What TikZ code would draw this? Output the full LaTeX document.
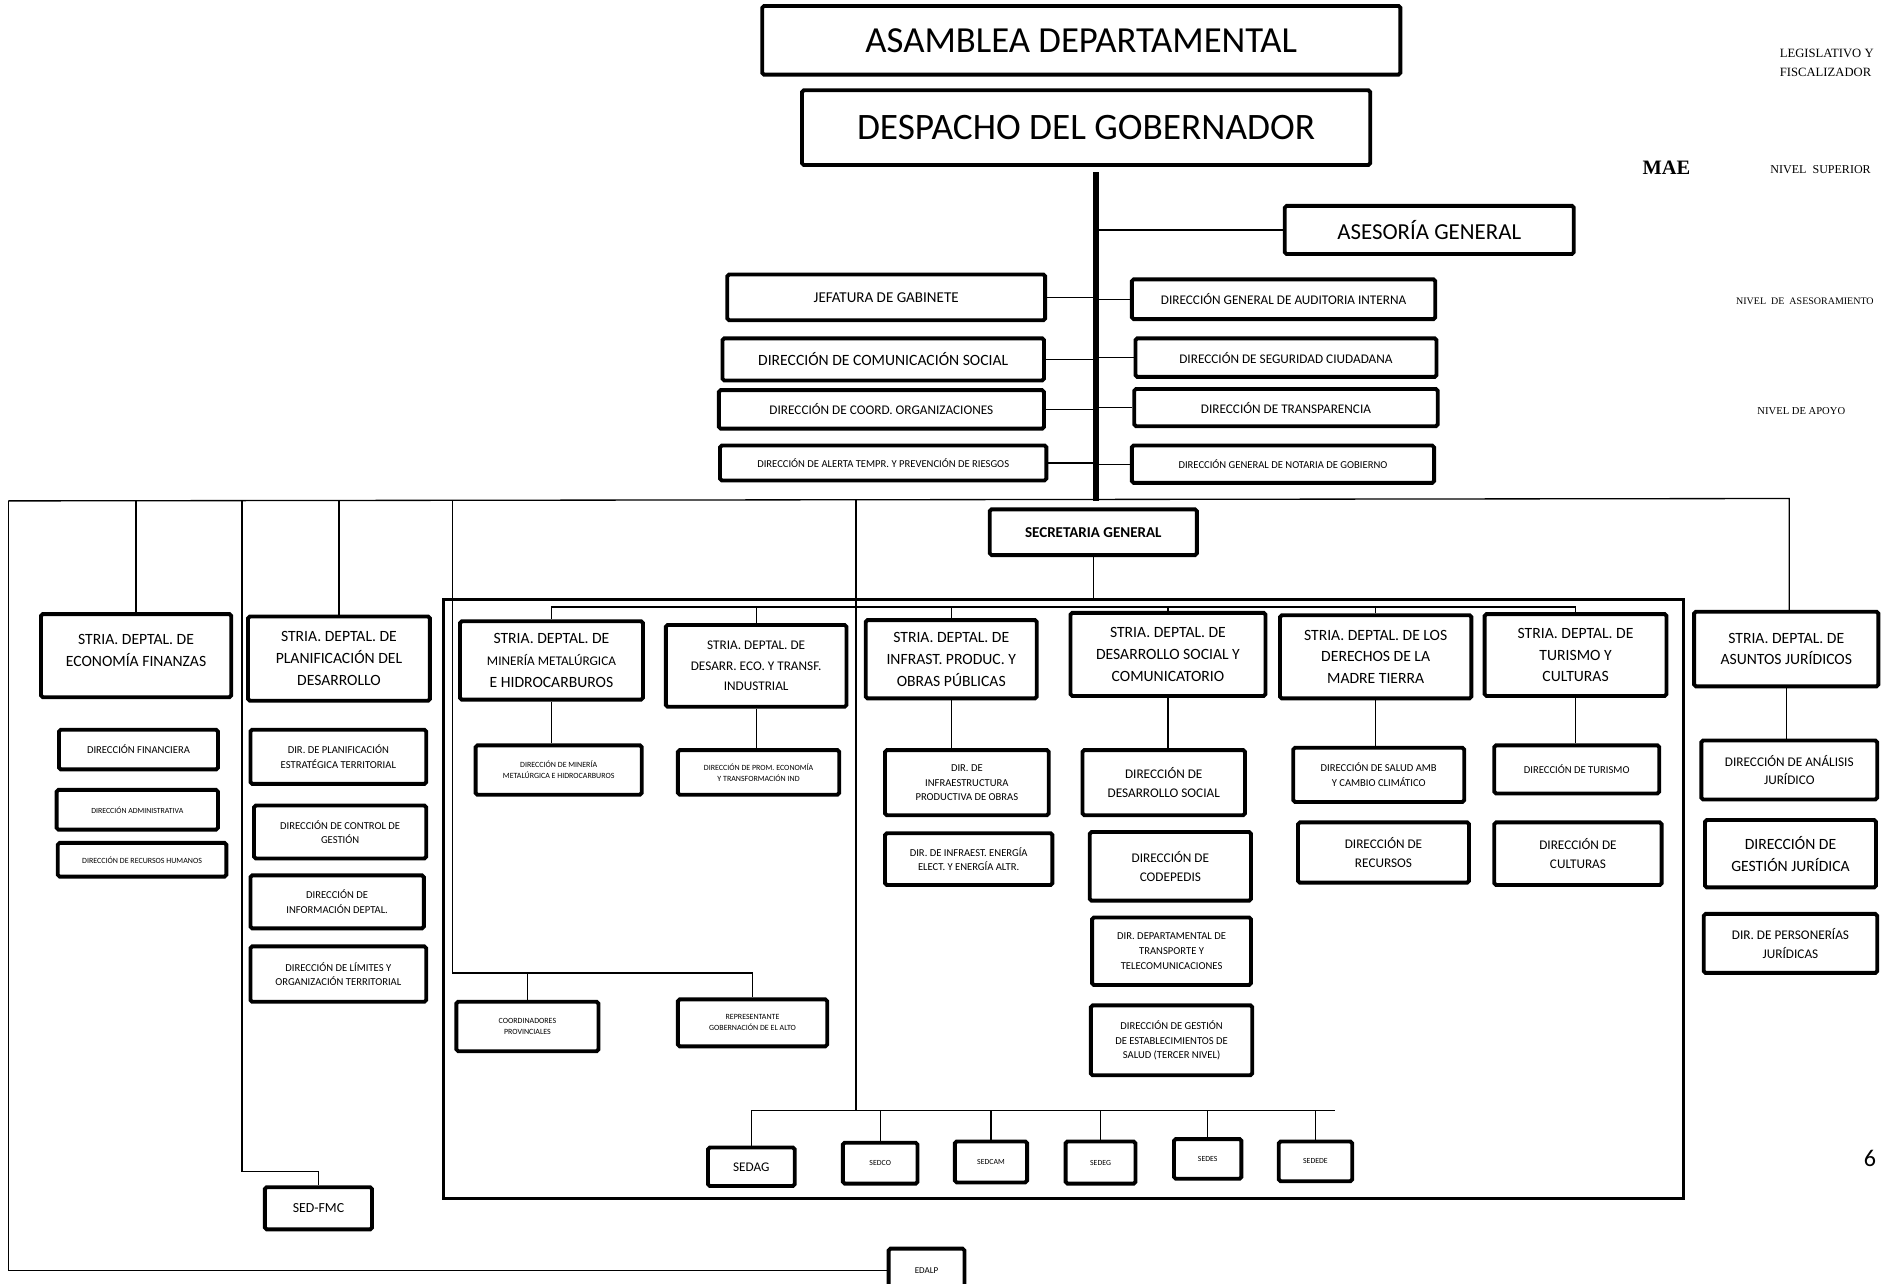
\documentclass[tikz,border=0pt]{standalone}
\usepackage{fontspec}
\setmainfont{Carlito}
\newfontfamily\tnr{Liberation Serif}
\newcommand\fsz[1]{\fontsize{#1pt}{\fpeval{1.4*#1}pt}\selectfont}
\tikzset{
  ob/.style={draw,line width=3.2pt,rounded corners=1.5pt,fill=white,inner sep=0pt,align=center},
  ln/.style={line width=1.1pt},
  bar/.style={line width=5pt},
  lab/.style={inner sep=0pt,font=\tnr}
}
\newcommand\obox[7]{\node[ob,minimum width={(#4-#2)*1pt},minimum height={(#5-#3)*1pt},font=\fsz{#6}] (#1) at ({(#2+#4)/2},{(#3+#5)/2}) {#7};}
\begin{document}
\begin{tikzpicture}[x=1pt,y=-1pt]
\fill[white] (0,0) rectangle (1568,1066);
\useasboundingbox (0,0) rectangle (1568,1066);

% big inner frame
\node[draw,line width=2.6pt,minimum width=1030pt,minimum height=497pt,inner sep=0pt] (big) at (883,746.5) {};

% top
\obox{asam}{633}{5}{1163}{62}{30.5}{ASAMBLEA DEPARTAMENTAL}
\obox{desp}{666}{75}{1138}{137}{31}{DESPACHO DEL GOBERNADOR}
\obox{ases}{1067}{171}{1307}{211}{19}{ASESORÍA GENERAL}

% support units
\obox{jef}{604}{228}{868}{266}{12.5}{JEFATURA DE GABINETE}
\obox{com}{600}{281}{867}{316}{13}{\raisebox{-3pt}{DIRECCIÓN DE COMUNICACIÓN SOCIAL}}
\obox{coo}{597}{324}{867}{356}{11}{DIRECCIÓN DE COORD. ORGANIZACIONES}
\obox{ale}{598}{370}{869}{399}{8.8}{DIRECCIÓN DE ALERTA TEMPR. Y PREVENCIÓN DE RIESGOS}
\obox{aud}{940}{232}{1192}{265}{11}{DIRECCIÓN GENERAL DE AUDITORIA INTERNA}
\obox{seg}{943}{281}{1193}{313}{11}{DIRECCIÓN DE SEGURIDAD CIUDADANA}
\obox{tra}{942}{323}{1194}{354}{11}{DIRECCIÓN DE TRANSPARENCIA}
\obox{not}{940}{370}{1191}{401}{8.8}{DIRECCIÓN GENERAL DE NOTARIA DE GOBIERNO}

\obox{sg}{822}{423}{994}{461}{12.5}{\bfseries SECRETARIA GENERAL}

% secretarias
\obox{eco}{34}{510}{192}{579}{13}{STRIA. DEPTAL. DE\\ECONOMÍA FINANZAS\\[-9pt]\mbox{}}
\obox{pla}{206}{512}{357}{582}{13}{STRIA. DEPTAL. DE\\PLANIFICACIÓN DEL\\DESARROLLO}
\obox{min}{382}{516}{534}{581}{13}{STRIA. DEPTAL. DE\\\fsz{11}MINERÍA METALÚRGICA\\E HIDROCARBUROS}
\obox{des}{553}{519}{703}{587}{11}{STRIA. DEPTAL. DE\\[1.5pt]DESARR. ECO. Y TRANSF.\\[1.5pt]INDUSTRIAL}
\obox{inf}{719}{515}{861}{580}{13}{STRIA. DEPTAL. DE\\INFRAST. PRODUC. Y\\OBRAS PÚBLICAS}
\obox{dso}{889}{509}{1051}{578}{13}{STRIA. DEPTAL. DE\\DESARROLLO SOCIAL Y\\COMUNICATORIO}
\obox{mad}{1063}{511}{1222}{580}{13}{STRIA. DEPTAL. DE LOS\\DERECHOS DE LA\\MADRE TIERRA}
\obox{tur}{1233}{510}{1384}{578}{13}{STRIA. DEPTAL. DE\\TURISMO Y\\CULTURAS}
\obox{aju}{1407}{508}{1560}{570}{13}{STRIA. DEPTAL. DE\\ASUNTOS JURÍDICOS}

% direcciones
\obox{dfin}{49}{606}{181}{639}{8.8}{DIRECCIÓN FINANCIERA}
\obox{dadm}{47}{656}{181}{689}{6.5}{DIRECCIÓN ADMINISTRATIVA}
\obox{drh}{48}{700}{188}{728}{6.6}{DIRECCIÓN DE RECURSOS HUMANOS}
\obox{dpe}{208}{606}{354}{651}{8.8}{DIR. DE PLANIFICACIÓN\\ESTRATÉGICA TERRITORIAL}
\obox{dcg}{211}{669}{354}{713}{8.8}{DIRECCIÓN DE CONTROL DE\\GESTIÓN}
\obox{dinfo}{208}{727}{352}{771}{8.8}{DIRECCIÓN DE\\INFORMACIÓN DEPTAL.}
\obox{dlim}{208}{786}{354}{832}{8.8}{DIRECCIÓN DE LÍMITES Y\\ORGANIZACIÓN TERRITORIAL}
\obox{dmin}{395}{619}{533}{660}{6.6}{DIRECCIÓN DE MINERÍA\\METALÚRGICA E HIDROCARBUROS}
\obox{dprom}{563}{623}{697}{660}{6.6}{DIRECCIÓN DE PROM. ECONOMÍA\\Y TRANSFORMACIÓN IND}
\obox{dinf}{735}{623}{871}{677}{8.8}{DIR. DE\\INFRAESTRUCTURA\\PRODUCTIVA DE OBRAS}
\obox{dene}{735}{692}{874}{735}{8.8}{DIR. DE INFRAEST. ENERGÍA\\ELECT. Y ENERGÍA ALTR.}
\obox{ddes}{899}{623}{1034}{677}{11}{DIRECCIÓN DE\\DESARROLLO SOCIAL}
\obox{dcod}{905}{691}{1039}{748}{11}{DIRECCIÓN DE\\CODEPEDIS}
\obox{dtra}{907}{762}{1039}{818}{8.8}{DIR. DEPARTAMENTAL DE\\TRANSPORTE Y\\TELECOMUNICACIONES}
\obox{dsal}{906}{835}{1040}{893}{8.8}{DIRECCIÓN DE GESTIÓN\\DE ESTABLECIMIENTOS DE\\SALUD (TERCER NIVEL)}
\obox{damb}{1074}{621}{1216}{666}{8.8}{DIRECCIÓN DE SALUD AMB\\Y CAMBIO CLIMÁTICO}
\obox{drec}{1078}{683}{1220}{733}{11}{DIRECCIÓN DE\\RECURSOS}
\obox{dtur}{1241}{619}{1378}{659}{8.8}{DIRECCIÓN DE TURISMO}
\obox{dcul}{1241}{683}{1380}{735}{11}{DIRECCIÓN DE\\CULTURAS}
\obox{dana}{1413}{615}{1559}{664}{11}{DIRECCIÓN DE ANÁLISIS\\JURÍDICO}
\obox{dges}{1416}{681}{1558}{737}{13}{DIRECCIÓN DE\\GESTIÓN JURÍDICA}
\obox{dper}{1415}{759}{1559}{808}{11}{DIR. DE PERSONERÍAS\\JURÍDICAS}
\obox{coor}{379}{832}{497}{873}{6.6}{COORDINADORES\\PROVINCIALES}
\obox{repr}{563}{830}{687}{869}{6.6}{REPRESENTANTE\\GOBERNACIÓN DE EL ALTO}

% decentralized
\obox{sedag}{588}{953}{660}{985}{11}{SEDAG}
\obox{sedco}{700}{949}{762}{983}{6.5}{SEDCO}
\obox{sedcam}{793}{948}{853}{982}{6.5}{SEDCAM}
\obox{sedeg}{885}{948}{943}{983}{6.5}{SEDEG}
\obox{sedes}{975}{946}{1031}{979}{6.5}{SEDES}
\obox{sedede}{1062}{948}{1123}{981}{6.5}{SEDEDE}
\obox{fmc}{220}{986}{309}{1021}{11.5}{SED-FMC}
\obox{edalp}{738}{1037}{801}{1073}{7.5}{EDALP}

% level labels
\node[lab,anchor=north west,align=left,font=\tnr\fontsize{10.5pt}{15pt}\selectfont] (leg) at (1478,41) {LEGISLATIVO Y\\FISCALIZADOR};
\node[lab,font=\tnr\fontsize{17pt}{20pt}\selectfont\bfseries] (mae) at (1384,139) {MAE};
\node[lab,font=\tnr\fontsize{10pt}{12pt}\selectfont] (nsup) at (1512,141) {NIVEL\ \ SUPERIOR};
\node[lab,font=\tnr\fontsize{8.3pt}{10pt}\selectfont] (nase) at (1499,250) {NIVEL\ \ DE\ \ ASESORAMIENTO};
\node[lab,font=\tnr\fontsize{8.8pt}{10pt}\selectfont] (napo) at (1496,341) {NIVEL DE APOYO};
\node[inner sep=0pt,font=\fontsize{20pt}{24pt}\selectfont] (pg) at (1553,962) {6};

% connectors
\coordinate (bartop) at (910,143);
\coordinate (TL) at (7,416);
\coordinate (TR) at (1486,414);
\draw[bar] (bartop) -- (bartop |- TL);
\draw[ln] (ases.west) -- (ases.west -| bartop);
\foreach \n in {jef,com,coo,ale} \draw[ln] (\n.east) -- (\n.east -| bartop);
\foreach \n in {aud,seg,tra,not} \draw[ln] (\n.west) -- (\n.west -| bartop);
\draw[ln] (TL) -- (TR) -- (TR |- aju.north);
\draw[ln] (eco.north) -- (eco.north |- TL);
\draw[ln] (pla.north) -- (pla.north |- TL);
\coordinate (BL) at (7,1055);
\draw[ln] (TL) -- (BL) -- (edalp.west);
\coordinate (fA) at (201,416);
\coordinate (fB) at (201,973);
\draw[ln] (fA) -- (fB) -| (fmc.north);
\coordinate (cA) at (376,416);
\coordinate (cB) at (376,808);
\draw[ln] (cA) -- (cB) -| (repr.north);
\draw[ln] (coor.north) -- (coor.north |- cB);
\coordinate (sA) at (711,415);
\coordinate (sB) at (711,922);
\draw[ln] (sA) -- (sB);
\coordinate (busL) at (624,922);
\coordinate (busR) at (1109,922);
\draw[ln] (busL) -- (busR);
\foreach \n in {sedag,sedco,sedcam,sedeg,sedes,sedede} \draw[ln] (\n.north) -- (\n.north |- busL);
\draw[ln] (sg.south) -- (sg.south |- big.north);
\coordinate (ibL) at (461,504);
\draw[ln] (min.north |- ibL) -- (tur.north |- ibL);
\foreach \n in {min,des,inf,dso,mad,tur} \draw[ln] (\n.north) -- (\n.north |- ibL);
\draw[ln] (min.south) -- (min.south |- dmin.north);
\draw[ln] (des.south) -- (des.south |- dprom.north);
\draw[ln] (inf.south) -- (inf.south |- dinf.north);
\draw[ln] (dso.south) -- (dso.south |- ddes.north);
\draw[ln] (mad.south) -- (mad.south |- damb.north);
\draw[ln] (tur.south) -- (tur.south |- dtur.north);
\draw[ln] (aju.south) -- (aju.south |- dana.north);
\end{tikzpicture}
\end{document}
